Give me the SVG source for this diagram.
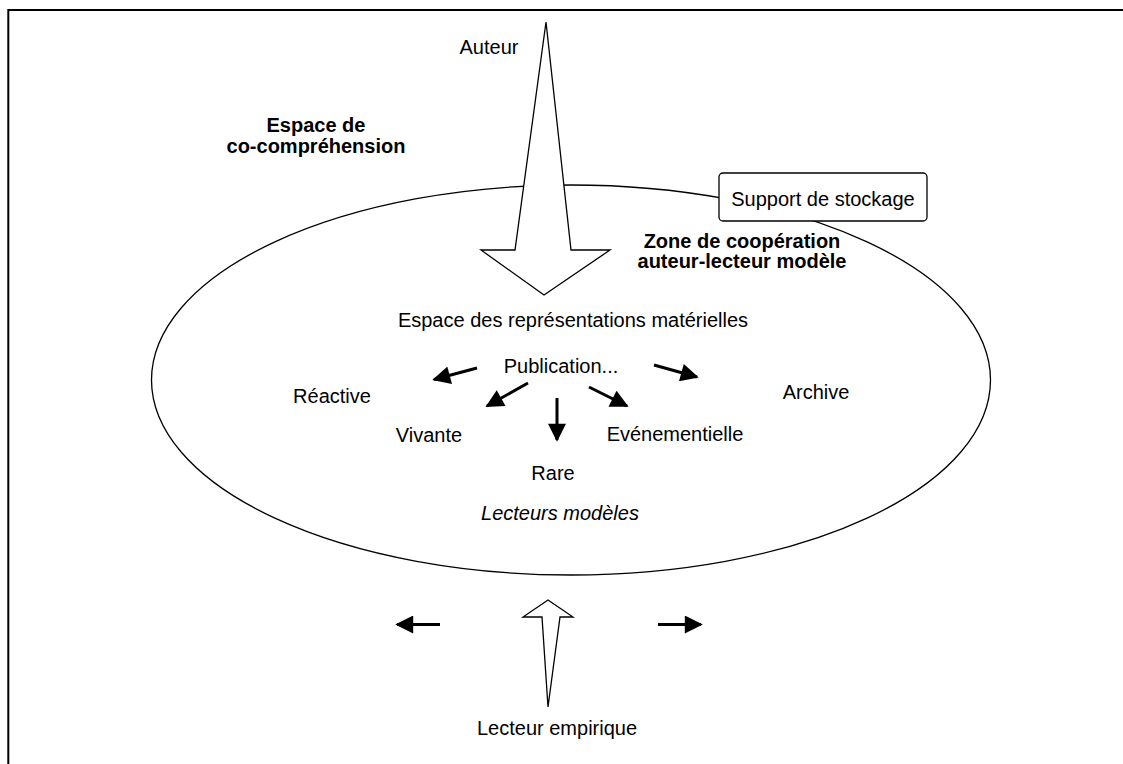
<svg xmlns="http://www.w3.org/2000/svg" width="1123" height="764" viewBox="0 0 1123 764">
<style>
text{font-family:"Liberation Sans",Arial,sans-serif;font-size:20px;fill:#000}
.b{font-weight:bold}
.i{font-style:italic}
.thin{fill:none;stroke:#000;stroke-width:1.3}
.hollow{fill:#fff;stroke:#000;stroke-width:1.3;stroke-linejoin:miter}
.sa{stroke:#000;stroke-width:3;fill:none}
</style>
<defs>
<marker id="ah" viewBox="0 0 10 10" refX="9" refY="5" markerWidth="6.5" markerHeight="6" orient="auto" markerUnits="strokeWidth">
<path d="M0,0 L10,5 L0,10 z" fill="#000"/>
</marker>
</defs>
<rect width="1123" height="764" fill="#fff"/>
<path d="M8.3,764 V10 H1123" fill="none" stroke="#000" stroke-width="2"/>
<g id="zone">
<ellipse cx="571" cy="380" rx="419.5" ry="195" class="thin"/>
</g>
<g id="auteur">
<polygon class="hollow" points="546,22 571,250 610,250 544,295 481,250 515,250"/>
<text x="489" y="54" text-anchor="middle">Auteur</text>
</g>
<g id="support">
<rect x="719" y="173" width="208" height="48" rx="4" class="hollow"/>
<text x="823" y="206" text-anchor="middle">Support de stockage</text>
</g>
<g id="espace-cocomprehension">
<text x="316" y="132" text-anchor="middle" class="b">Espace de</text>
<text x="316" y="153" text-anchor="middle" class="b">co-compréhension</text>
</g>
<g id="zone-cooperation">
<text x="742" y="248" text-anchor="middle" class="b">Zone de coopération</text>
<text x="742" y="268" text-anchor="middle" class="b">auteur-lecteur modèle</text>
</g>
<g id="espace-representations"><text x="573" y="327" text-anchor="middle">Espace des représentations matérielles</text></g>
<g id="publication"><text x="561" y="373" text-anchor="middle">Publication...</text></g>
<g id="reactive"><text x="332" y="403" text-anchor="middle">Réactive</text></g>
<g id="vivante"><text x="429" y="442" text-anchor="middle">Vivante</text></g>
<g id="rare"><text x="553" y="480" text-anchor="middle">Rare</text></g>
<g id="evenementielle"><text x="675" y="441" text-anchor="middle">Evénementielle</text></g>
<g id="archive"><text x="816" y="399" text-anchor="middle">Archive</text></g>
<g id="lecteurs-modeles"><text x="560" y="520" text-anchor="middle" class="i">Lecteurs modèles</text></g>
<g id="lecteur-empirique">
<polygon class="hollow" points="548,600 573,617 560,617 548,707 542,617 523,617"/>
<text x="557" y="735" text-anchor="middle">Lecteur empirique</text>
</g>
<g id="connectors">
<line class="sa" x1="477" y1="368" x2="434" y2="379.5" marker-end="url(#ah)"/>
<line class="sa" x1="528" y1="383" x2="487" y2="406" marker-end="url(#ah)"/>
<line class="sa" x1="557" y1="398" x2="557" y2="440" marker-end="url(#ah)"/>
<line class="sa" x1="589" y1="387" x2="627" y2="406" marker-end="url(#ah)"/>
<line class="sa" x1="654" y1="365" x2="697" y2="377" marker-end="url(#ah)"/>
<line class="sa" x1="440" y1="624.5" x2="397" y2="624.5" marker-end="url(#ah)"/>
<line class="sa" x1="658" y1="624.5" x2="701" y2="624.5" marker-end="url(#ah)"/>
</g>
</svg>
